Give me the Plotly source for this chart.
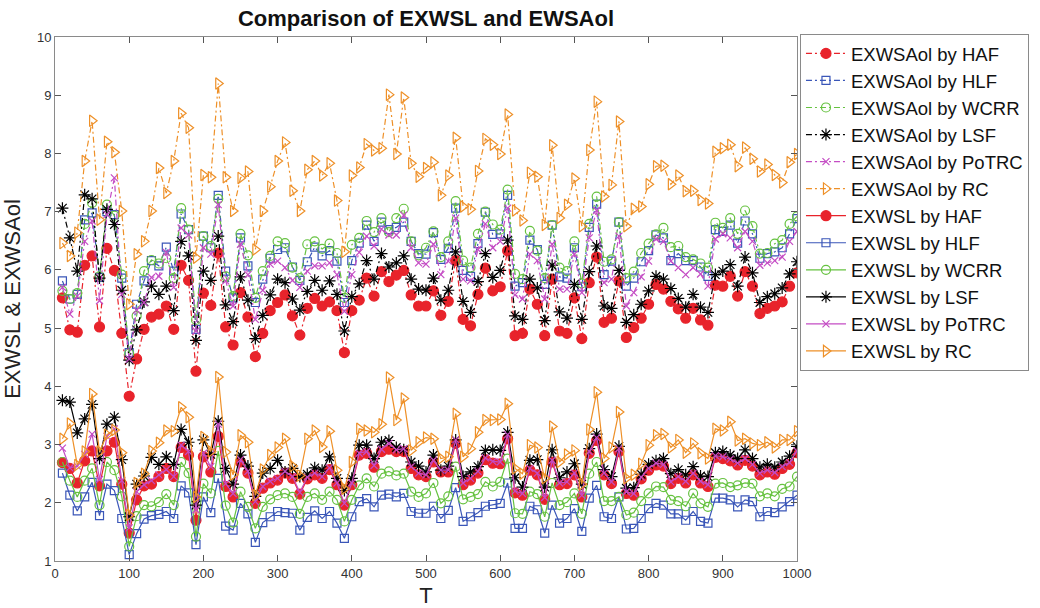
import plotly.graph_objects as go

T = list(range(10, 1001, 10))

# ---- EXWSAol (upper, dash-dot) ----
ol_HAF = [5.52, 4.97, 4.93, 6.08, 6.24, 5.02, 6.37, 5.99, 4.91, 3.83,
          4.47, 4.98, 5.19, 5.24, 5.38, 4.98, 6.08, 5.82, 4.26, 5.60,
          5.39, 6.29, 5.02, 4.71, 5.61, 5.19, 4.51, 4.91, 5.30, 5.44,
          5.57, 5.21, 4.88, 5.34, 5.51, 5.38, 5.45, 5.30, 4.58, 5.30,
          5.48, 5.86, 5.55, 5.97, 5.80, 5.91, 5.99, 5.57, 5.38, 5.38,
          5.64, 5.22, 5.46, 6.16, 5.15, 5.04, 5.58, 6.03, 5.64, 5.71,
          6.33, 4.87, 4.91, 5.67, 5.41, 4.87, 5.84, 4.95, 4.91, 5.52,
          4.82, 5.78, 6.22, 5.10, 5.17, 5.81, 4.84, 5.01, 5.17, 5.41,
          5.75, 5.67, 5.46, 5.33, 5.17, 5.34, 5.14, 5.05, 5.74, 5.72,
          5.89, 5.55, 5.97, 5.72, 5.25, 5.34, 5.38, 5.45, 5.72, 5.95]
ol_HLF = [5.81, 5.50, 5.58, 6.86, 6.98, 5.87, 7.00, 6.95, 5.86, 4.58,
          5.41, 5.81, 6.16, 6.07, 6.39, 5.98, 6.96, 6.69, 4.98, 6.58,
          6.38, 7.28, 5.98, 5.52, 6.55, 6.07, 5.44, 5.84, 6.20, 6.35,
          6.38, 6.05, 5.82, 6.14, 6.39, 6.24, 6.33, 6.15, 5.44, 6.16,
          6.46, 6.77, 6.49, 6.82, 6.69, 6.73, 6.82, 6.49, 6.28, 6.27,
          6.64, 6.18, 6.37, 7.06, 5.99, 5.89, 6.45, 6.99, 6.61, 6.62,
          7.28, 5.72, 5.78, 6.51, 6.35, 5.75, 6.77, 5.88, 5.86, 6.38,
          5.71, 6.73, 7.13, 5.92, 6.15, 6.82, 5.72, 5.86, 6.14, 6.33,
          6.60, 6.55, 6.16, 6.28, 6.16, 6.16, 6.05, 5.89, 6.69, 6.66,
          6.77, 6.46, 6.84, 6.62, 6.20, 6.28, 6.31, 6.38, 6.62, 6.88]
ol_WCRR = [5.64, 5.50, 5.60, 6.79, 7.15, 5.89, 7.12, 6.93, 5.92, 4.56,
           5.21, 5.98, 6.17, 6.11, 6.20, 5.86, 7.06, 6.69, 5.14, 6.58,
           6.41, 7.22, 5.89, 5.55, 6.62, 6.25, 5.52, 5.98, 6.24, 6.49,
           6.46, 6.04, 5.86, 6.44, 6.49, 6.36, 6.45, 6.29, 5.52, 6.43,
           6.55, 6.84, 6.65, 6.89, 6.65, 6.89, 7.05, 6.49, 6.25, 6.38,
           6.66, 6.22, 6.49, 7.18, 6.16, 6.04, 6.62, 7.00, 6.78, 6.69,
           7.38, 5.93, 5.84, 6.67, 6.33, 5.86, 6.77, 6.04, 5.98, 6.49,
           5.77, 6.79, 7.26, 6.14, 6.18, 6.82, 5.86, 5.97, 6.29, 6.45,
           6.61, 6.72, 6.39, 6.41, 6.22, 6.18, 6.11, 6.04, 6.81, 6.72,
           6.89, 6.62, 7.02, 6.75, 6.28, 6.29, 6.45, 6.51, 6.79, 6.92]
ol_LSF = [7.06, 6.55, 5.98, 7.29, 7.22, 5.86, 7.04, 6.78, 5.65, 4.45,
          4.97, 5.45, 5.72, 5.58, 5.72, 5.30, 6.49, 6.24, 4.79, 5.98,
          5.82, 6.58, 5.40, 5.11, 5.88, 5.48, 4.82, 5.22, 5.57, 5.84,
          5.78, 5.50, 5.31, 5.63, 5.82, 5.65, 5.81, 5.58, 4.95, 5.54,
          5.76, 6.16, 5.84, 6.28, 6.05, 6.12, 6.24, 5.84, 5.67, 5.65,
          5.86, 5.48, 5.65, 6.31, 5.46, 5.27, 5.80, 6.28, 5.87, 5.99,
          6.51, 5.21, 5.15, 5.84, 5.69, 5.13, 6.08, 5.28, 5.17, 5.75,
          5.15, 5.97, 6.41, 5.38, 5.34, 5.99, 5.10, 5.23, 5.41, 5.64,
          5.89, 5.84, 5.68, 5.51, 5.36, 5.58, 5.36, 5.27, 5.92, 5.98,
          6.09, 5.72, 6.22, 5.95, 5.44, 5.54, 5.59, 5.69, 5.93, 6.14]
ol_PoTRC = [5.70, 5.24, 5.55, 6.49, 6.84, 5.47, 6.95, 7.58, 5.58, 4.47,
            5.31, 5.44, 5.87, 5.89, 6.30, 5.70, 6.72, 6.60, 4.95, 6.38,
            6.27, 7.12, 5.81, 5.38, 6.44, 5.92, 5.15, 5.65, 6.10, 6.15,
            6.04, 5.82, 5.70, 5.98, 6.07, 6.07, 6.12, 5.92, 5.29, 5.92,
            6.30, 6.58, 6.41, 6.70, 6.60, 6.60, 6.94, 6.38, 6.12, 6.10,
            6.44, 5.92, 6.15, 6.89, 5.84, 5.81, 6.35, 6.79, 6.38, 6.49,
            7.06, 5.57, 5.50, 6.27, 6.16, 5.50, 6.44, 5.67, 5.67, 6.27,
            5.61, 6.55, 7.02, 5.78, 5.84, 6.58, 5.38, 5.61, 5.88, 6.15,
            6.53, 6.49, 6.15, 6.04, 5.92, 6.04, 5.93, 5.72, 6.53, 6.62,
            6.55, 6.38, 6.66, 6.49, 6.08, 6.12, 6.16, 6.22, 6.49, 6.66]
ol_RC = [6.46, 6.24, 6.64, 7.87, 8.56, 6.86, 8.20, 8.02, 7.01, 5.41,
         6.27, 6.49, 7.01, 7.75, 7.32, 7.87, 8.69, 8.44, 6.21, 7.63,
         7.59, 9.20, 7.59, 7.01, 7.58, 7.69, 6.35, 7.01, 7.43, 7.87,
         8.19, 7.36, 7.01, 7.72, 7.87, 7.62, 7.83, 7.19, 6.31, 7.62,
         7.76, 8.16, 8.05, 8.09, 9.01, 7.99, 8.96, 7.83, 7.60, 7.75,
         7.85, 7.28, 7.62, 8.27, 7.09, 7.04, 7.70, 8.25, 8.15, 7.99,
         8.67, 7.02, 6.85, 7.67, 7.60, 6.77, 8.14, 6.89, 7.12, 7.57,
         6.75, 8.06, 8.89, 7.26, 7.46, 8.55, 6.75, 7.05, 7.09, 7.47,
         7.78, 7.79, 7.47, 7.62, 7.35, 7.36, 7.20, 7.14, 8.03, 8.09,
         8.15, 7.78, 8.10, 7.91, 7.69, 7.81, 7.63, 7.50, 7.85, 7.99]

# ---- EXWSL (lower, solid) ----
sl_HAF = [2.69, 2.59, 2.34, 2.72, 2.89, 2.29, 2.89, 3.04, 2.32, 1.48,
          2.05, 2.29, 2.32, 2.45, 2.59, 2.45, 2.95, 2.82, 1.70, 2.79,
          2.53, 3.14, 2.28, 2.10, 2.70, 2.51, 1.99, 2.25, 2.34, 2.39,
          2.51, 2.42, 2.15, 2.41, 2.48, 2.42, 2.57, 2.31, 1.96, 2.31,
          2.82, 2.85, 2.61, 2.88, 2.92, 2.88, 2.88, 2.59, 2.48, 2.45,
          2.70, 2.53, 2.53, 3.02, 2.31, 2.39, 2.51, 2.74, 2.68, 2.67,
          3.10, 2.17, 2.13, 2.56, 2.48, 2.06, 2.70, 2.31, 2.33, 2.48,
          2.10, 2.85, 3.07, 2.48, 2.33, 2.88, 2.16, 2.13, 2.41, 2.56,
          2.65, 2.63, 2.33, 2.42, 2.34, 2.48, 2.34, 2.28, 2.78, 2.76,
          2.72, 2.65, 2.73, 2.63, 2.48, 2.53, 2.49, 2.59, 2.66, 2.86]
sl_HLF = [2.51, 2.13, 1.86, 2.10, 2.35, 1.78, 2.32, 2.21, 1.73, 1.11,
          1.47, 1.72, 1.78, 1.80, 1.85, 1.73, 2.29, 2.17, 1.28, 2.10,
          1.83, 2.42, 1.60, 1.53, 1.99, 1.81, 1.32, 1.66, 1.76, 1.85,
          1.83, 1.82, 1.53, 1.75, 1.86, 1.73, 1.85, 1.65, 1.39, 1.76,
          2.02, 2.07, 1.93, 2.13, 2.15, 2.10, 2.16, 1.85, 1.82, 1.82,
          1.94, 1.73, 1.87, 2.26, 1.68, 1.76, 1.83, 1.94, 1.97, 1.99,
          2.34, 1.56, 1.56, 1.94, 1.88, 1.48, 1.96, 1.65, 1.73, 1.90,
          1.51, 2.08, 2.30, 1.76, 1.73, 2.10, 1.55, 1.56, 1.73, 1.90,
          1.99, 1.96, 1.81, 1.81, 1.70, 1.85, 1.68, 1.65, 2.08, 2.08,
          2.05, 1.93, 2.05, 2.02, 1.76, 1.85, 1.83, 1.93, 2.02, 2.13]
sl_WCRR = [2.70, 2.38, 2.10, 2.38, 2.59, 1.96, 2.70, 2.56, 2.11, 1.25,
           1.77, 1.96, 1.94, 2.01, 2.15, 1.96, 2.70, 2.51, 1.42, 2.33,
           2.16, 2.89, 1.95, 1.66, 2.19, 1.93, 1.56, 1.93, 2.06, 2.13,
           2.16, 2.10, 1.81, 2.10, 2.16, 2.05, 2.19, 2.05, 1.68, 2.05,
           2.30, 2.42, 2.28, 2.50, 2.54, 2.47, 2.50, 2.19, 2.10, 2.16,
           2.34, 1.99, 2.11, 2.62, 2.06, 2.10, 2.15, 2.36, 2.28, 2.36,
           2.76, 1.82, 1.81, 2.19, 2.15, 1.76, 2.34, 1.96, 2.01, 2.16,
           1.81, 2.50, 2.70, 2.03, 2.03, 2.10, 1.79, 1.83, 2.03, 2.16,
           2.28, 2.27, 2.05, 2.03, 1.94, 2.16, 1.99, 1.93, 2.33, 2.34,
           2.27, 2.30, 2.34, 2.33, 2.11, 2.16, 2.11, 2.24, 2.28, 2.45]
sl_LSF = [3.76, 3.73, 3.20, 3.44, 3.69, 2.76, 3.35, 3.47, 2.74, 1.76,
          2.32, 2.46, 2.78, 2.66, 2.79, 2.66, 3.26, 3.04, 1.96, 3.08,
          2.83, 3.40, 2.59, 2.32, 2.82, 2.63, 2.11, 2.51, 2.59, 2.73,
          2.53, 2.59, 2.45, 2.49, 2.60, 2.56, 2.79, 2.42, 2.21, 2.42,
          2.99, 2.99, 2.76, 3.04, 3.07, 2.95, 2.91, 2.70, 2.63, 2.53,
          2.82, 2.56, 2.63, 3.08, 2.45, 2.53, 2.62, 2.90, 2.91, 2.90,
          3.21, 2.43, 2.27, 2.73, 2.74, 2.27, 2.91, 2.43, 2.53, 2.67,
          2.32, 2.93, 3.18, 2.57, 2.45, 2.97, 2.25, 2.26, 2.49, 2.66,
          2.72, 2.76, 2.50, 2.57, 2.48, 2.62, 2.46, 2.45, 2.86, 2.88,
          2.82, 2.76, 2.91, 2.76, 2.61, 2.66, 2.61, 2.70, 2.80, 2.97]
sl_PoTRC = [2.94, 2.60, 2.63, 2.83, 3.18, 2.40, 3.14, 3.27, 2.38, 1.57,
            2.19, 2.31, 2.38, 2.48, 2.57, 2.45, 2.99, 2.88, 1.88, 2.85,
            2.62, 3.35, 2.33, 2.16, 2.74, 2.54, 2.02, 2.28, 2.37, 2.42,
            2.54, 2.45, 2.18, 2.44, 2.51, 2.45, 2.60, 2.34, 1.99, 2.34,
            2.85, 2.88, 2.64, 2.92, 3.02, 2.91, 2.93, 2.62, 2.51, 2.48,
            2.73, 2.56, 2.56, 3.08, 2.34, 2.42, 2.54, 2.77, 2.71, 2.70,
            3.17, 2.20, 2.16, 2.59, 2.51, 2.09, 2.73, 2.34, 2.36, 2.51,
            2.13, 2.88, 3.12, 2.51, 2.36, 2.93, 2.19, 2.16, 2.44, 2.59,
            2.68, 2.66, 2.36, 2.45, 2.37, 2.51, 2.37, 2.31, 2.81, 2.79,
            2.75, 2.68, 2.76, 2.66, 2.51, 2.56, 2.52, 2.62, 2.69, 2.89]
sl_RC = [3.10, 3.36, 2.65, 2.88, 3.87, 2.88, 3.17, 3.25, 2.86, 1.79,
         2.34, 2.50, 2.89, 3.03, 3.24, 3.23, 3.64, 3.47, 2.10, 3.13,
         2.88, 4.16, 2.87, 2.48, 3.16, 3.04, 2.13, 2.57, 2.82, 2.95,
         3.10, 2.63, 2.47, 3.10, 3.24, 2.96, 3.23, 2.56, 2.24, 2.70,
         3.27, 3.24, 3.21, 3.35, 4.15, 3.42, 3.79, 2.90, 3.04, 3.12,
         3.10, 2.76, 2.79, 3.53, 2.79, 2.93, 3.21, 3.42, 3.42, 3.43,
         3.70, 2.59, 2.50, 2.99, 2.95, 2.42, 3.31, 2.70, 2.83, 2.90,
         2.32, 3.26, 3.90, 2.76, 2.95, 3.56, 2.42, 2.48, 2.67, 2.99,
         3.16, 3.18, 2.95, 3.08, 2.86, 3.02, 2.85, 2.76, 3.27, 3.24,
         3.39, 3.07, 3.10, 3.02, 2.99, 3.04, 2.95, 3.08, 3.08, 3.23]

methods = ["HAF", "HLF", "WCRR", "LSF", "PoTRC", "RC"]
ol_data = [ol_HAF, ol_HLF, ol_WCRR, ol_LSF, ol_PoTRC, ol_RC]
sl_data = [sl_HAF, sl_HLF, sl_WCRR, sl_LSF, sl_PoTRC, sl_RC]

colors = {"HAF": "#e8232b", "HLF": "#3a56b8", "WCRR": "#66c240",
          "LSF": "#000000", "PoTRC": "#c44cc4", "RC": "#ee9028"}
symbols = {"HAF": "circle", "HLF": "square-open", "WCRR": "circle-open",
           "LSF": "asterisk-open", "PoTRC": "x-thin-open", "RC": "triangle-right-open"}
sizes = {"HAF": 10, "HLF": 8, "WCRR": 9, "LSF": 10, "PoTRC": 7, "RC": 10}

fig = go.Figure()
for prefix, data, dash in [("EXWSAol", ol_data, "6px,3px,2px,3px"), ("EXWSL", sl_data, "solid")]:
    for m, y in zip(methods, data):
        c = colors[m]
        name = f"{prefix} by {m}"
        fig.add_trace(go.Scatter(
            x=T, y=y, mode="lines+markers", name=name, legendgroup=name,
            line=dict(color=c, width=1.2, dash=dash),
            marker=dict(symbol=symbols[m], size=sizes[m], color=c,
                        line=dict(color=c, width=1.2)),
        ))

FONT = "Liberation Sans, Arial"
axis_common = dict(showline=True, linecolor="#8a8a8a", linewidth=1, mirror="ticks",
                   ticks="inside", ticklen=6, tickcolor="#555555", showgrid=False,
                   zeroline=False, automargin=False,
                   tickfont=dict(family=FONT, size=13, color="#333333"))

fig.update_layout(
    width=1040, height=608,
    margin=dict(l=55, r=243, t=37, b=47, autoexpand=False),
    plot_bgcolor="white", paper_bgcolor="white",
    title=dict(text="<b>Comparison of EXWSL and EWSAol</b>", x=426/1040, xanchor="center",
               y=1 - 18/608, yanchor="middle",
               font=dict(family=FONT, size=22, color="#111111")),
    xaxis=dict(range=[0, 1000], dtick=100, tick0=0,
               title=dict(text="T", font=dict(family=FONT, size=22, color="#222"), standoff=8),
               **axis_common),
    yaxis=dict(range=[1, 10], dtick=1, tick0=1,
               title=dict(text="EXWSL &amp; EXWSAol", font=dict(family=FONT, size=22, color="#222"), standoff=12),
               **axis_common),
    legend=dict(x=1.004, y=1.006, xanchor="left", yanchor="top",
                bgcolor="white", bordercolor="#8a8a8a", borderwidth=1,
                font=dict(family=FONT, size=18.5, color="#111111"),
                itemwidth=40, tracegroupgap=0, maxheight=560),
    showlegend=True,
)

fig.write_html("out.html", config={"displayModeBar": False},
               post_script="document.body.style.margin='0px';document.body.style.padding='0px';")
